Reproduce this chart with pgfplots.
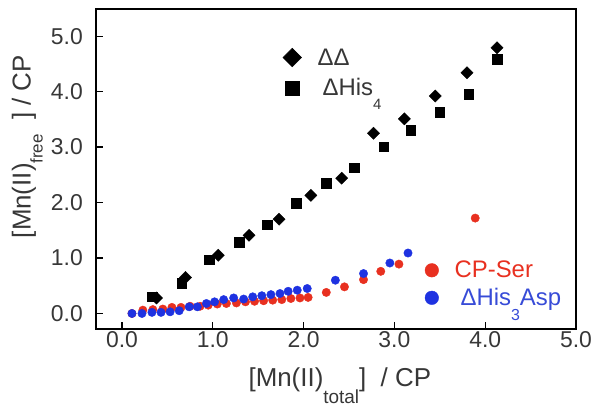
\documentclass[border=0pt]{standalone}
\usepackage{fontspec}
\setmainfont{Liberation Sans}
\usepackage{pgfplots}
\pgfplotsset{compat=1.18}
\definecolor{serred}{RGB}{232,48,32}
\definecolor{aspblue}{RGB}{30,50,225}
\definecolor{txtgray}{RGB}{55,55,55}
\definecolor{asptxt}{RGB}{55,75,215}
\newcommand{\low}[3]{\raisebox{#1}[0pt][0pt]{\fontsize{#2}{#2}\selectfont #3}}
\begin{document}
\begin{tikzpicture}[x=1bp,y=1bp]
\useasboundingbox (-96,-81) rectangle (506,329);
\pgfplotsset{
  myaxis/.style={
    scale only axis, width=480bp, height=320bp,
    xmin=-0.286, xmax=5.0, ymin=-0.28, ymax=5.49,
    clip=false,
  },
}
\begin{axis}[
  myaxis,
  axis line style={line width=1.4bp, black},
  tick align=inside, xtick pos=bottom, ytick pos=left,
  major tick length=7bp, tick style={line width=1.2bp, black},
  xtick={0,1,2,3,4,5}, ytick={0,1,2,3,4,5},
  /pgf/number format/fixed, /pgf/number format/fixed zerofill,
  /pgf/number format/precision=1, /pgf/number format/assume math mode=true,
  ticklabel style={font=\fontsize{23}{26}\selectfont, text=txtgray, inner sep=0pt},
  xticklabel style={anchor=base, yshift=-18bp},
  yticklabel style={anchor=east},
  yticklabel shift=13bp,
  xlabel={[Mn(II)\low{-17bp}{19}{total}]\ \ / CP},
  ylabel={[Mn(II)\low{-12bp}{17}{free}\ \ ] / CP},
  xlabel style={font=\fontsize{26}{30}\selectfont, text=txtgray, at={(axis description cs:0.508,-0.181)}, anchor=base},
  ylabel style={font=\fontsize{26}{30}\selectfont, text=txtgray, at={(axis description cs:-0.15,0.57)}, anchor=center},
  legend style={draw=none, fill=none, at={(axis description cs:0.389,0.80)}, anchor=west,
    font=\fontsize{24}{28}\selectfont, text=txtgray, row sep=8bp, inner sep=0pt,
    /tikz/every odd column/.append style={column sep=14bp}},
  legend cell align=left,
]
\addlegendimage{only marks, mark=square*, mark size=6.6bp, mark options={rotate=45, fill=black, draw=black}}
\addlegendentry{ΔΔ}
\addlegendimage{only marks, mark=square*, mark size=6.8bp, mark options={fill=black, draw=black}}
\addlegendentry{\hspace{5bp}ΔHis\low{-14bp}{15}{4}}
\addplot[only marks, mark=square*, mark size=4.8bp, mark options={fill=black, draw=black}, forget plot] coordinates {
(0.33,0.30) (0.657,0.55) (0.96,0.97) (1.29,1.29) (1.60,1.60) (1.92,1.99) (2.25,2.35) (2.56,2.63) (2.88,3.01) (3.18,3.30) (3.50,3.63) (3.82,3.95) (4.13,4.59)
};
\addplot[only marks, mark=square*, mark size=4.3bp, mark options={rotate=45, fill=black, draw=black}, forget plot] coordinates {
(0.38,0.28) (0.70,0.65) (1.06,1.05) (1.40,1.41) (1.73,1.70) (2.08,2.13) (2.42,2.44) (2.77,3.25) (3.11,3.51) (3.45,3.92) (3.80,4.34) (4.13,4.79)
};
\end{axis}
\begin{axis}[
  myaxis, hide axis,
  legend style={draw=none, fill=none, at={(axis description cs:0.685,0.14)}, anchor=west,
    font=\fontsize{24}{28}\selectfont, row sep=5bp, inner sep=0pt,
    /tikz/every odd column/.append style={column sep=14bp}},
  legend cell align=left,
]
\addlegendimage{only marks, mark=*, mark size=6.8bp, mark options={fill=serred, draw=serred}}
\addlegendentry{\textcolor{serred}{CP-Ser}}
\addlegendimage{only marks, mark=*, mark size=6.8bp, mark options={fill=aspblue, draw=aspblue}}
\addlegendentry{\textcolor{asptxt}{\hspace{6bp}ΔHis\low{-15bp}{16}{3}Asp}}
\addplot[only marks, mark=*, mark size=4.2bp, mark options={fill=serred, draw=serred}, forget plot] coordinates {
(0.11,0.0) (0.23,0.06) (0.34,0.07) (0.45,0.08) (0.55,0.11) (0.65,0.11) (0.75,0.13) (0.86,0.13) (0.95,0.15) (1.05,0.17) (1.15,0.18) (1.26,0.19) (1.36,0.21) (1.46,0.22) (1.56,0.23) (1.66,0.24) (1.76,0.25) (1.86,0.27) (1.96,0.28) (2.05,0.29) (2.25,0.38) (2.45,0.48) (2.66,0.61) (2.85,0.76) (3.05,0.89) (3.89,1.72)
};
\addplot[only marks, mark=*, mark size=4.2bp, mark options={fill=aspblue, draw=aspblue}, forget plot] coordinates {
(0.11,0.00) (0.22,0.00) (0.33,0.02) (0.43,0.02) (0.53,0.03) (0.63,0.05) (0.74,0.12) (0.83,0.12) (0.93,0.18) (1.02,0.21) (1.12,0.25) (1.23,0.28) (1.34,0.26) (1.44,0.30) (1.54,0.32) (1.64,0.34) (1.74,0.36) (1.83,0.40) (1.93,0.42) (2.04,0.45) (2.35,0.60) (2.66,0.72) (2.95,0.91) (3.15,1.09)
};
\end{axis}
\end{tikzpicture}
\end{document}
